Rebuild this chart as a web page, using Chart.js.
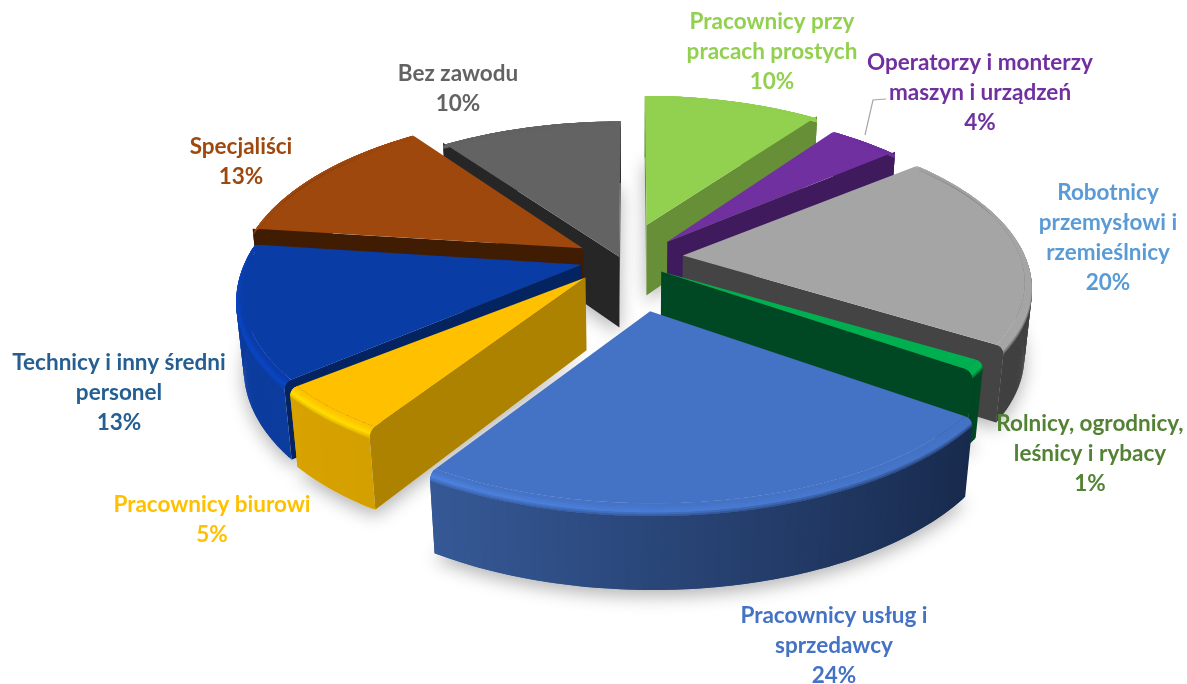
<!DOCTYPE html>
<html>
<head>
<meta charset="utf-8">
<title>Struktura zawodowa</title>
<script src="https://cdn.jsdelivr.net/npm/chart.js@4"></script>
<style>
  html, body { margin: 0; padding: 0; background: #fff; }
  canvas { display: block; }
</style>
</head>
<body>
<canvas id="chart" width="1187" height="684"></canvas>
<script>
// values, clockwise from 12 o'clock
const categories = [
  'Pracownicy przy|pracach prostych',
  'Operatorzy i monterzy|maszyn i urządzeń',
  'Robotnicy|przemysłowi i|rzemieślnicy',
  'Rolnicy, ogrodnicy,|leśnicy i rybacy',
  'Pracownicy usług i|sprzedawcy',
  'Pracownicy biurowi',
  'Technicy i inny średni|personel',
  'Specjaliści',
  'Bez zawodu'
];
const shares = [10, 4, 20, 1, 24, 5, 13, 13, 10];
const explosion = [45, 51, 51, 35, 73, 70, 51, 58, 32];

const topColors = ['#92d050', '#7030a0', '#a5a5a5', '#00b050', '#4472c4', '#ffc000', '#0a3ca6', '#9e480e', '#636363'];
const cutColors = ['#668f38', '#3f1a5c', '#444444', '#004723', '#263f6e', '#ad8200', '#032460', '#401c03', '#262626'];
const rimLight = ['#668f38', '#3f1a5c', '#4a4a4a', '#004723', '#4069b0', '#dca600', '#0c3c9e', '#401c03', '#262626'];
const rimDark = ['#668f38', '#3f1a5c', '#404040', '#004723', '#142443', '#b88a00', '#0c3c9e', '#401c03', '#262626'];
const textColors = ['#92d050', '#7030a0', '#5b9bd5', '#548235', '#4472c4', '#ffc000', '#255e91', '#9e480e', '#636363'];

// label anchors: centre x, first line middle y
const labelX = [772, 980, 1108, 1090, 834, 212, 119, 241, 458];
const labelY = [22, 63, 193, 424, 616, 505, 363, 147, 74];

// hand fit per slice, the original 3d render is not a clean projection
const nudgeX = [1, 1, 0, 0, 4, 1, -1, 0, -3];
const nudgeY = [-17, -3, -5, 0, 14, -10, -4, 0, 9];
const narrow = [0.97, 0.97, 1, 1, 1.01, 0.965, 0.98, 1, 1];
const flatten = [0.96, 0.98, 0.96, 0.93, 0.95, 0.92, 1, 1, 1];

// camera for the fake 3d
const view = { cx: 632, cy: 262, size: 345, tilt: 28.3 * Math.PI / 180, dist: 5.5, depth: 0.24, bevel: 0.022 };
const sinT = Math.sin(view.tilt), cosT = Math.cos(view.tilt);

function project(u, v, w) {
  const raw = v * sinT - w * cosT;
  const near = v * cosT + w * sinT;
  const p = 1 / (1 - near / view.dist);
  return { x: view.cx + view.size * u * p, y: view.cy + view.size * raw * p };
}

function hex(c) {
  return [1, 3, 5].map(i => parseInt(c.substr(i, 2), 16));
}
function mix(a, b, t) {
  t = Math.max(0, Math.min(1, t));
  return a.map((x, i) => x + (b[i] - x) * t);
}
function css(c) {
  return 'rgb(' + c.map(Math.round).join(',') + ')';
}

function poly(ctx, pts, fill) {
  ctx.beginPath();
  pts.forEach((p, i) => i ? ctx.lineTo(p.x, p.y) : ctx.moveTo(p.x, p.y));
  ctx.closePath();
  ctx.fillStyle = fill;
  ctx.fill();
}

function wedgeGeometry(arc, i) {
  const off = explosion[i] / view.size;
  const mid = (arc.startAngle + arc.endAngle) / 2;
  const ox = Math.cos(mid) * off, oy = Math.sin(mid) * off;
  const steps = Math.max(3, Math.ceil((arc.endAngle - arc.startAngle) / 0.01));
  const angles = [];
  for (let k = 0; k <= steps; k++) angles.push(arc.startAngle + (arc.endAngle - arc.startAngle) * k / steps);
  return { ox, oy, angles, mid, i };
}

function ringPoint(g, a, r, w) {
  const p = project(g.ox + Math.cos(a) * r * narrow[g.i], g.oy + Math.sin(a) * r * flatten[g.i], w);
  return { x: p.x + nudgeX[g.i], y: p.y + nudgeY[g.i] };
}

function drawShadow(ctx, arc, i) {
  const g = wedgeGeometry(arc, i);
  const pts = [ringPoint(g, 0, 0, -view.depth)];
  g.angles.forEach(a => pts.push(ringPoint(g, a, 1, -view.depth)));
  ctx.save();
  ctx.shadowColor = 'rgba(0,0,0,0.3)';
  ctx.shadowBlur = 18;
  ctx.shadowOffsetY = 6;
  poly(ctx, pts, '#fff');
  ctx.restore();
}

// one pie wedge: outer wall, cut walls, top face, rounded rim
function drawWedge(ctx, arc, i) {
  const g = wedgeGeometry(arc, i);
  const b = view.bevel, d = view.depth;
  const top = hex(topColors[i]);
  const light = hex(rimLight[i]), dark = hex(rimDark[i]);
  const shine = top.map(x => Math.min(255, x * 1.18));
  const last = g.angles.length - 1;

  // outer wall, each quad runs over the next one so no seams show
  for (let k = 0; k < last; k++) {
    const a0 = g.angles[k], a1 = g.angles[Math.min(k + 2, last)];
    const t = (1 - Math.cos(g.angles[k])) / 2;
    poly(ctx, [ringPoint(g, a0, 1, -b), ringPoint(g, a1, 1, -b), ringPoint(g, a1, 1, -d), ringPoint(g, a0, 1, -d)], css(mix(dark, light, t)));
  }

  // cut walls, only the ones facing the viewer
  const apexTop = ringPoint(g, 0, 0, 0);
  const apexLow = ringPoint(g, 0, 0, -d);
  const startTop = ringPoint(g, arc.startAngle, 1, 0), endTop = ringPoint(g, arc.endAngle, 1, 0);
  if (startTop.x < apexTop.x) poly(ctx, [apexTop, startTop, ringPoint(g, arc.startAngle, 1, -d), apexLow], cutColors[i]);
  if (endTop.x > apexTop.x) poly(ctx, [apexTop, endTop, ringPoint(g, arc.endAngle, 1, -d), apexLow], cutColors[i]);

  // top face
  const face = [apexTop];
  g.angles.forEach(a => face.push(ringPoint(g, a, 1 - b, 0)));
  poly(ctx, face, topColors[i]);

  // rim between top face and wall
  const bands = 7;
  for (let n = bands - 1; n >= 0; n--) {
    const q0 = n / bands * Math.PI / 2, q1 = Math.min(n + 2, bands) / bands * Math.PI / 2;
    const r0 = 1 - b + b * Math.sin(q0), r1 = 1 - b + b * Math.sin(q1);
    const w0 = -b + b * Math.cos(q0), w1 = -b + b * Math.cos(q1);
    const pos = (n + 0.5) / bands;
    for (let k = 0; k < last; k++) {
      const a0 = g.angles[k], a1 = g.angles[Math.min(k + 2, last)];
      const t = (1 - Math.cos(a0)) / 2;
      const wall = mix(dark, light, t);
      const fade = Math.max(0, Math.min(1, (Math.sin(a0) + 0.75) / 0.75));
      const peak = mix(top, shine, t);
      let c = pos < 0.5 ? mix(top, peak, pos / 0.5) : mix(peak, wall, (pos - 0.5) / 0.5);
      c = mix(top, c, fade);
      poly(ctx, [ringPoint(g, a0, r0, w0), ringPoint(g, a1, r0, w0), ringPoint(g, a1, r1, w1), ringPoint(g, a0, r1, w1)], css(c));
    }
  }
}

const pie3d = {
  id: 'pie3d',
  beforeDatasetDraw(chart, args) {
    const ctx = chart.ctx;
    const arcs = chart.getDatasetMeta(args.index).data;
    const order = arcs.map((a, i) => i).sort((p, q) => {
      const m = a => (a.startAngle + a.endAngle) / 2;
      return Math.sin(m(arcs[p])) - Math.sin(m(arcs[q]));
    });
    order.forEach(i => drawShadow(ctx, arcs[i], i));
    order.forEach(i => drawWedge(ctx, arcs[i], i));
    return false;
  },
  afterDraw(chart) {
    const ctx = chart.ctx;
    ctx.save();
    // leader line of the small slice
    ctx.strokeStyle = '#a6a6a6';
    ctx.lineWidth = 1.2;
    ctx.beginPath();
    ctx.moveTo(886, 99);
    ctx.lineTo(873, 100);
    ctx.lineTo(865, 135);
    ctx.stroke();

    ctx.font = '700 22.5px Lato';
    ctx.textAlign = 'center';
    ctx.textBaseline = 'middle';
    categories.forEach((name, i) => {
      const lines = name.split('|').concat(shares[i] + '%');
      ctx.fillStyle = textColors[i];
      lines.forEach((line, n) => ctx.fillText(line, labelX[i], labelY[i] + n * 30));
    });
    ctx.restore();
  }
};

new Chart(document.getElementById('chart'), {
  type: 'pie',
  data: {
    labels: categories,
    datasets: [{
      data: shares,
      backgroundColor: topColors,
      offset: explosion,
      borderWidth: 0
    }]
  },
  options: {
    responsive: false,
    animation: false,
    events: [],
    plugins: { legend: { display: false }, tooltip: { enabled: false } }
  },
  plugins: [pie3d]
});
</script>
</body>
</html>
